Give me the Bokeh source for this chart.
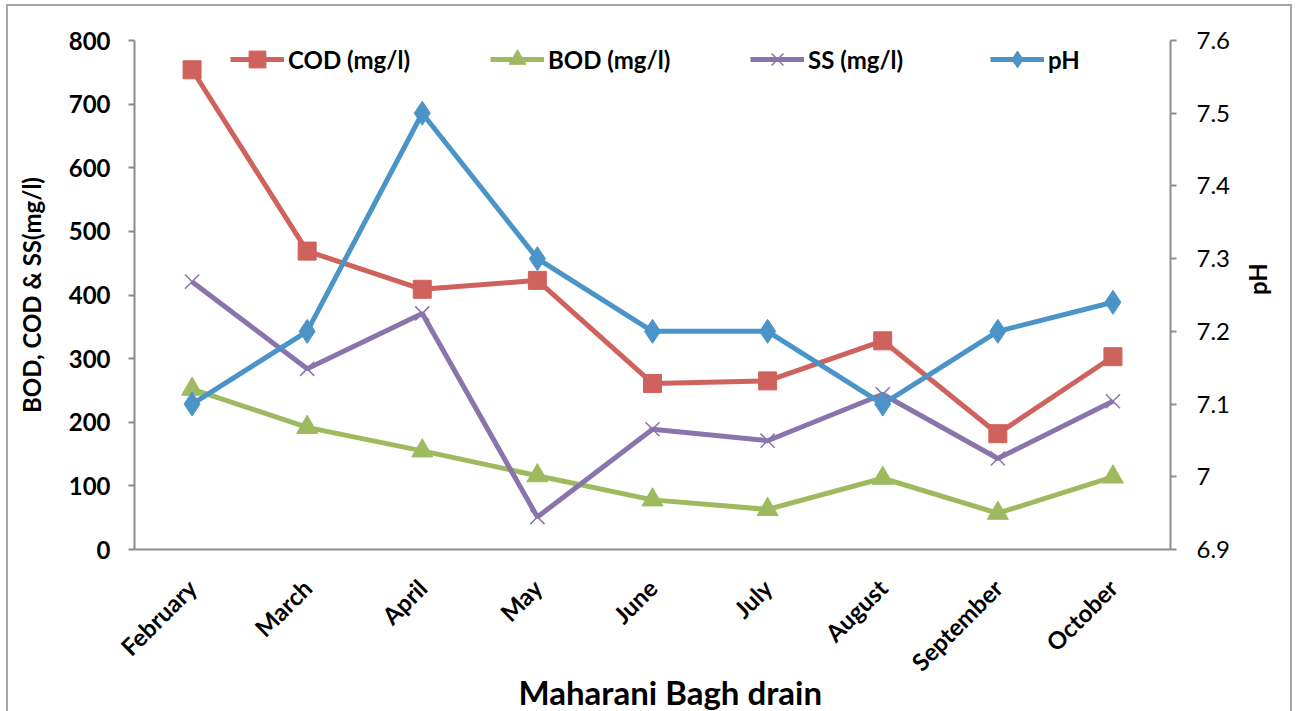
import math
from bokeh.plotting import figure
from bokeh.models import (FactorRange, Range1d, LinearAxis, FixedTicker, Legend, LegendItem,
                          CustomJSTickFormatter, Title)
from bokeh.embed import file_html
from bokeh.resources import INLINE

months = ["February", "March", "April", "May", "June", "July", "August", "September", "October"]
cod = [754, 469, 409, 423, 261, 265, 328, 182, 303]
bod = [252, 192, 155, 116, 78, 63, 112, 57, 114]
ss = [421, 284, 371, 51, 189, 171, 244, 143, 233]
ph = [7.1, 7.2, 7.5, 7.3, 7.2, 7.2, 7.1, 7.2, 7.24]
left_ticks = [0, 100, 200, 300, 400, 500, 600, 700, 800]
right_ticks = [6.9, 7.0, 7.1, 7.2, 7.3, 7.4, 7.5, 7.6]

FONT = "Lato"
C_COD = "#CF625C"
C_BOD = "#9DBB5E"
C_SS = "#8A74AC"
C_PH = "#4B94C8"
GRAY = "#8c8c8c"

p = figure(width=1286, height=707, x_range=FactorRange(factors=months),
           y_range=Range1d(0, 800), output_backend="svg", toolbar_location=None,
           min_border_left=126, min_border_right=124, min_border_top=34, min_border_bottom=164)
p.styles = {"border-left": "2px solid #a6a6a6", "border-top": "2px solid #a6a6a6",
            "border-right": "2px solid #a6a6a6", "margin-left": "6px", "margin-top": "4px"}
p.outline_line_color = None
p.xgrid.grid_line_color = None
p.ygrid.grid_line_color = None
p.background_fill_color = "white"
p.border_fill_color = "white"

p.extra_y_ranges = {"ph": Range1d(6.9, 7.6)}

# left axis
ya = p.yaxis[0]
ya.ticker = FixedTicker(ticks=left_ticks)
ya.minor_tick_line_color = None
ya.axis_line_color = GRAY
ya.axis_line_width = 2
ya.major_tick_line_color = GRAY
ya.major_tick_line_width = 2
ya.major_tick_out = 6
ya.major_tick_in = 0
ya.major_label_standoff = 18
ya.major_label_text_font = FONT
ya.major_label_text_font_style = "bold"
ya.major_label_text_font_size = "24px"
ya.major_label_text_color = "black"
ya.axis_label = "BOD, COD & SS(mg/l)"
ya.axis_label_text_font = FONT
ya.axis_label_text_font_style = "bold"
ya.axis_label_text_font_size = "24px"
ya.axis_label_text_color = "black"
ya.axis_label_standoff = 20

# right axis
ra = LinearAxis(y_range_name="ph", ticker=FixedTicker(ticks=right_ticks),
                formatter=CustomJSTickFormatter(code="return tick.toFixed(1).replace(/\\.0$/, '');"))
ra.minor_tick_line_color = None
ra.axis_line_color = GRAY
ra.axis_line_width = 2
ra.major_tick_line_color = GRAY
ra.major_tick_line_width = 2
ra.major_tick_out = 6
ra.major_tick_in = 0
ra.major_label_standoff = 20
ra.major_label_text_font = FONT
ra.major_label_text_font_style = "normal"
ra.major_label_text_font_size = "24px"
ra.major_label_text_color = "black"
ra.axis_label = "pH"
ra.axis_label_orientation = math.pi / 2
ra.axis_label_text_font = FONT
ra.axis_label_text_font_style = "bold"
ra.axis_label_text_font_size = "24px"
ra.axis_label_text_color = "black"
ra.axis_label_standoff = 24
p.add_layout(ra, "right")

# bottom axis
xa = p.xaxis[0]
xa.axis_line_color = GRAY
xa.axis_line_width = 2
xa.major_tick_line_color = None
xa.minor_tick_line_color = None
xa.major_label_orientation = math.pi / 4
xa.major_label_standoff = 28
xa.major_label_text_font = FONT
xa.major_label_text_font_style = "bold"
xa.major_label_text_font_size = "24px"
xa.major_label_text_color = "black"

# x-axis title below the tick labels
p.add_layout(Title(text="Maharani Bagh drain", align="left", offset=384, standoff=-36,
                   vertical_align="top",
                   text_font=FONT, text_font_style="bold", text_font_size="33px",
                   text_color="black"), "below")

# series
r1l = p.line(months, cod, line_color=C_COD, line_width=5)
r1m = p.scatter(months, cod, marker="square", size=18, fill_color=C_COD, line_color=C_COD)
r2l = p.line(months, bod, line_color=C_BOD, line_width=5)
r2m = p.scatter(months, bod, marker="triangle", size=21, fill_color=C_BOD, line_color=C_BOD)
r3l = p.line(months, ss, line_color=C_SS, line_width=5)
r3m = p.scatter(months, ss, marker="x", size=20, line_color=C_SS, line_width=1.5)
r4l = p.line(months, ph, line_color=C_PH, line_width=5, y_range_name="ph")
r4m = p.scatter(months, ph, marker="diamond", size=24, fill_color=C_PH, line_color=C_PH, y_range_name="ph")

items = [("COD (mg/l)", [r1l, r1m], 96), ("BOD (mg/l)", [r2l, r2m], 356),
         ("SS (mg/l)", [r3l, r3m], 616), ("pH", [r4l, r4m], 856)]
for label, rends, xoff in items:
    lg = Legend(items=[LegendItem(label=label, renderers=rends)], location=(xoff, 469),
                orientation="horizontal", glyph_width=54, glyph_height=42, padding=0, margin=0,
                label_standoff=4, border_line_color=None, background_fill_alpha=0,
                label_text_font=FONT, label_text_font_style="bold", label_text_font_size="24px",
                label_text_color="black")
    p.add_layout(lg, "center")

open("out.html", "w").write(file_html(p, INLINE))
